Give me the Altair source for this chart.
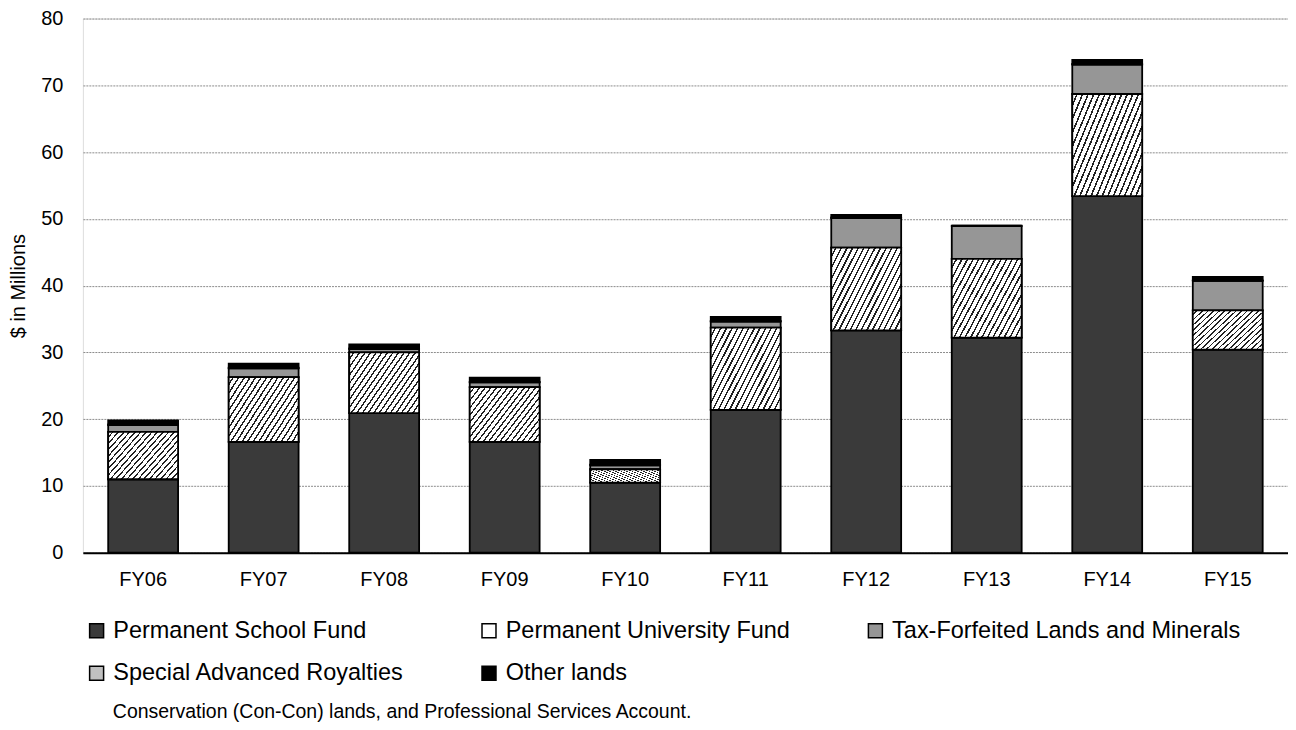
import altair as alt
import pandas as pd

years = ["FY06", "FY07", "FY08", "FY09", "FY10", "FY11", "FY12", "FY13", "FY14", "FY15"]
series = [
    "Permanent School Fund",
    "Permanent University Fund",
    "Tax-Forfeited Lands and Minerals",
    "Special Advanced Royalties",
    "Other lands",
]
school = [11.0, 16.6, 20.9, 16.6, 10.5, 21.4, 33.3, 32.2, 53.4, 30.4]
university = [7.1, 9.7, 9.1, 8.2, 2.0, 12.3, 12.4, 11.8, 15.3, 5.9]
tax_forfeited = [1.0, 1.3, 0.5, 0.7, 0.6, 0.9, 4.4, 4.9, 4.4, 4.4]
special_royalties = [0.1, 0.1, 0.1, 0.1, 0.1, 0.1, 0.1, 0.1, 0.1, 0.1]
other_lands = [0.6, 0.6, 0.6, 0.6, 0.7, 0.6, 0.4, 0.0, 0.6, 0.5]
footnote = "Conservation (Con-Con) lands, and Professional Services Account."

all_vals = [school, university, tax_forfeited, special_royalties, other_lands]
rows = []
for i, yr in enumerate(years):
    for k, name in enumerate(series):
        rows.append({"year": yr, "series": name, "order": k, "value": all_vals[k][i]})
df = pd.DataFrame(rows)

fills = ["#3a3a3a", "#ffffff", "#969696", "#c0c0c0", "#000000"]

# diagonal hatch approximation for the university fund
N = 20
frac = 0.7
slope = 0.6
scale_v = (1 + slope) / (1 + slope * slope)
stops = []
for k in range(N):
    a = k / N
    b = (k + frac) / N
    c = (k + 1) / N
    stops += [
        {"offset": a, "color": "#ffffff"},
        {"offset": b, "color": "#ffffff"},
        {"offset": b, "color": "#222222"},
        {"offset": c, "color": "#222222"},
    ]
hatch = {
    "gradient": "linear",
    "x1": 0,
    "y1": 0,
    "x2": round(scale_v, 4),
    "y2": round(scale_v * slope, 4),
    "stops": stops,
}

FONT = "Liberation Sans"

x_enc = alt.X(
    "year:N",
    sort=years,
    scale=alt.Scale(paddingInner=0.42, paddingOuter=0.21),
    axis=alt.Axis(
        title=None, labelAngle=0, labelFontSize=20, labelColor="#000000",
        labelFont=FONT, labelPadding=17, ticks=False, domainColor="#000000",
        domainWidth=2, grid=False,
    ),
)
y_enc = alt.Y(
    "y0:Q",
    scale=alt.Scale(domain=[0, 80], nice=False),
    axis=alt.Axis(
        values=list(range(0, 81, 10)), title="$ in Millions", titleFontSize=20,
        titleFontWeight="normal", titleFont=FONT, titleColor="#000000",
        titlePadding=12, labelFontSize=20, labelFont=FONT, labelColor="#000000",
        labelPadding=20, ticks=False, domain=False, gridDash=[2, 1],
        gridColor="#8c8c8c", gridWidth=1,
    ),
)

base = alt.Chart().mark_bar(stroke="#000000", strokeWidth=1.8).encode(
    x=x_enc,
    y=y_enc,
    y2="y1:Q",
    fill=alt.Fill(
        "series:N",
        scale=alt.Scale(domain=series, range=fills),
        sort=series,
        legend=alt.Legend(
            title=None, orient="none", legendX=2, legendY=601, columns=3,
            columnPadding=73, rowPadding=18, padding=0, symbolType="square",
            symbolSize=196, symbolStrokeColor="#000000", symbolStrokeWidth=1.5,
            labelFontSize=23.5, labelFont=FONT, labelColor="#000000",
            labelOffset=5, labelLimit=500, direction="horizontal",
        ),
    ),
)

overlay = alt.Chart().mark_bar(fill=hatch, stroke="#000000", strokeWidth=1.8).encode(
    x=x_enc, y=y_enc, y2="y1:Q"
).transform_filter(alt.datum.series == "Permanent University Fund")

chart = (
    alt.layer(base, overlay, data=df)
    .transform_stack(stack="value", as_=["y0", "y1"], groupby=["year"],
                     sort=[alt.SortField("order", order="ascending")])
    .properties(
        width=1207,
        height=535,
        autosize=alt.AutoSizeParams(type="none"),
        padding={"left": 75, "top": 10, "right": 0, "bottom": 169},
        title=alt.TitleParams(
            footnote, orient="bottom", anchor="start", frame="group",
            fontSize=19.5, fontWeight="normal", font=FONT, color="#000000",
            dx=30, offset=18,
        ),
    )
    .configure_view(stroke="#000000", strokeWidth=1.8)
    .configure(background="#ffffff")
)

chart.save("out.html", embed_options={"renderer": "svg", "actions": False})
